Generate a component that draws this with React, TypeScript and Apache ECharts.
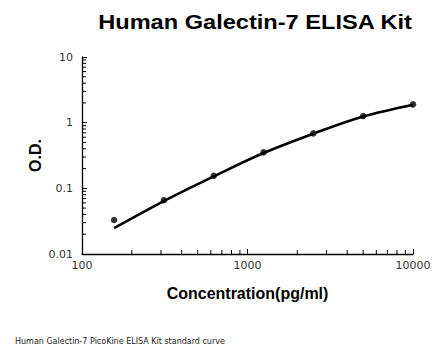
import React, { useEffect, useRef } from "react";
import * as echarts from "echarts";

const titleText = "Human Galectin-7 ELISA Kit";
const captionText = "Human Galectin-7 PicoKine ELISA Kit standard curve";
const xName = "Concentration(pg/ml)";
const yName = "O.D.";

const concentrations = [156.25, 312.5, 625, 1250, 2500, 5000, 10000];
const odValues = [0.033, 0.066, 0.155, 0.353, 0.687, 1.26, 1.9];
const curveValues = [0.0248, 0.064, 0.152, 0.345, 0.68, 1.24, 1.88];

const xMinorTicks = [200, 300, 400, 500, 600, 700, 800, 900, 2000, 3000, 4000, 5000, 6000, 7000, 8000, 9000];
const yMinorTicks = [0.02, 0.03, 0.04, 0.05, 0.06, 0.07, 0.08, 0.09, 0.2, 0.3, 0.4, 0.5, 0.6, 0.7, 0.8, 0.9, 2, 3, 4, 5, 6, 7, 8, 9];
const xMin = 100, xMax = 10000, yMin = 0.01, yMax = 10;

export default function App() {
  const ref = useRef<HTMLDivElement>(null);
  useEffect(() => {
    if (!ref.current) return;
    const chart = echarts.init(ref.current, null, { renderer: "svg" });
    const tickData: any[] = [
      ...xMinorTicks.map((v) => [v, yMin, 0]),
      ...yMinorTicks.map((v) => [xMin, v, 1]),
    ];
    const fmt = (v: number) => String(Number(Number(v).toPrecision(3)));
    chart.setOption({
      animation: false,
      backgroundColor: "#fff",
      grid: { left: 82, right: 33, top: 57, bottom: 102 },
      graphic: [
        {
          type: "text",
          x: 255,
          y: 22,
          scaleX: 1.18,
          style: {
            text: titleText,
            textAlign: "center",
            textVerticalAlign: "middle",
            font: 'bold 20px "Liberation Sans", Arial, sans-serif',
            fill: "#000",
          },
        },
        {
          type: "text",
          x: 15,
          y: 341,
          style: {
            text: captionText,
            textAlign: "left",
            textVerticalAlign: "middle",
            font: '8px "DejaVu Sans", sans-serif',
            fill: "#222",
          },
        },
      ],
      xAxis: {
        type: "log",
        logBase: 10,
        min: xMin,
        max: xMax,
        name: xName,
        nameLocation: "middle",
        nameGap: 31,
        nameMoveOverlap: false,
        nameTextStyle: { fontFamily: "Liberation Sans", fontWeight: "bold", fontSize: 16, color: "#000" },
        axisLine: { lineStyle: { color: "#000", width: 1.3 } },
        axisTick: { inside: true, length: 5, lineStyle: { color: "#000", width: 1 } },
        axisLabel: { fontFamily: "DejaVu Sans", fontSize: 11, color: "#333", margin: 6, formatter: fmt },
        splitLine: { show: false },
      },
      yAxis: {
        type: "log",
        logBase: 10,
        min: yMin,
        max: yMax,
        name: yName,
        nameLocation: "middle",
        nameGap: 39,
        nameMoveOverlap: false,
        nameTextStyle: { fontFamily: "Liberation Sans", fontWeight: "bold", fontSize: 16, color: "#000" },
        axisLine: { lineStyle: { color: "#000", width: 1.3 } },
        axisTick: { inside: true, length: 5, lineStyle: { color: "#000", width: 1 } },
        axisLabel: { fontFamily: "DejaVu Sans", fontSize: 11, color: "#333", margin: 9, formatter: fmt },
        splitLine: { show: false },
      },
      series: [
        {
          type: "custom",
          clip: false,
          silent: true,
          data: tickData,
          encode: { x: 0, y: 1 },
          renderItem: (params: any, api: any) => {
            const p = api.coord([api.value(0), api.value(1)]);
            const kind = api.value(2);
            const shape =
              kind === 0
                ? { x1: p[0], y1: p[1], x2: p[0], y2: p[1] - 4 }
                : { x1: p[0], y1: p[1], x2: p[0] + 4, y2: p[1] };
            return { type: "line", shape, style: { stroke: "#000", lineWidth: 1 } };
          },
        },
        {
          type: "line",
          data: concentrations.map((c, i) => [c, curveValues[i]]),
          smooth: 0.35,
          showSymbol: false,
          symbol: "none",
          lineStyle: { color: "#000", width: 2.6 },
          z: 3,
        },
        {
          type: "scatter",
          data: concentrations.map((c, i) => [c, odValues[i]]),
          symbol: "circle",
          symbolSize: 6.5,
          itemStyle: { color: "#000" },
          z: 4,
        },
      ],
    });
    return () => chart.dispose();
  }, []);
  return <div ref={ref} style={{ position: "fixed", left: 0, top: 0, width: 446, height: 356 }} />;
}
